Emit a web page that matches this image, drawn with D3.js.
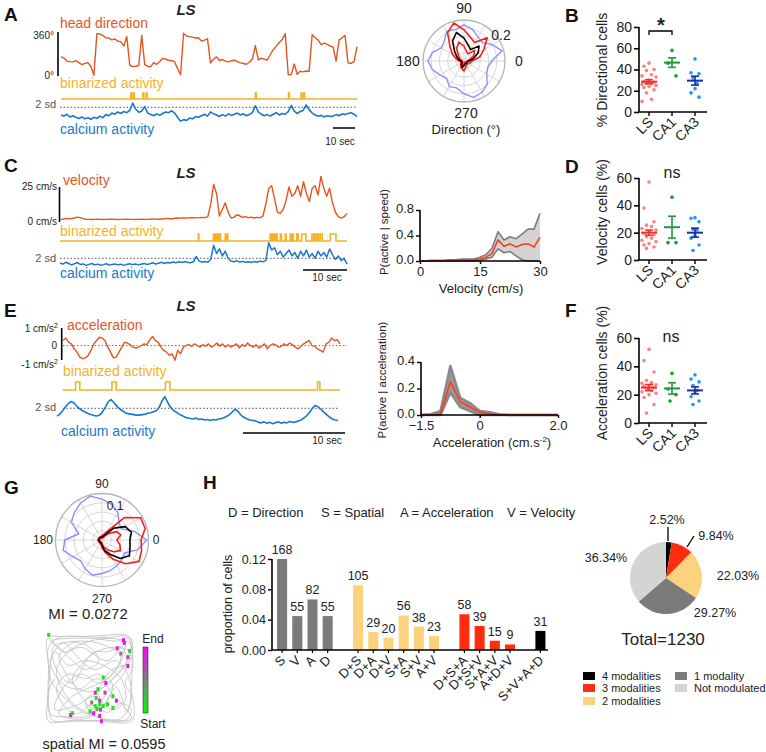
<!DOCTYPE html>
<html><head><meta charset="utf-8">
<script src="https://cdn.jsdelivr.net/npm/d3@7"></script>
<style>body{margin:0;background:#fff}svg{display:block}text{font-family:"Liberation Sans",Arial,Helvetica,sans-serif}</style>
</head><body><svg id="fig" width="766" height="752"></svg>
<script>
// ---------------- DATA ----------------
const hdDeg=[162,150,125,120,118,128,112,95,105,112,80,5,355,352,340,320,318,302,310,292,288,250,330,90,78,82,88,340,95,80,78,112,98,120,148,140,132,128,120,60,10,358,335,330,325,318,320,292,300,312,108,140,160,130,138,125,118,128,132,120,110,105,98,115,142,255,135,150,140,134,180,220,250,280,305,355,10,12,100,15,40,35,42,40,345,320,300,262,275,265,250,245,125,300,320,340,110,105,120,245];
const caA=[0,-0.3,0.2,-0.5,-0.2,-0.6,-0.9,-0.5,-1.0,-0.7,-1.1,-0.6,-0.9,-0.3,-0.7,0.1,-0.2,0.5,0.2,0.8,0.4,0.9,0.6,1.2,3.1,1.5,0.7,1.0,2.2,0.5,0.1,-0.2,0.3,-0.1,0.4,0.8,0.6,1.1,0.5,-0.6,-1.6,-1.2,-1.4,-0.8,-1.0,-0.4,-0.6,-0.2,0.2,-0.3,0.8,0.3,0.0,-0.4,0.1,-0.3,0.3,-0.1,0.2,0.5,0.0,0.3,-0.2,0.1,0.6,2.4,0.8,0.2,-0.2,0.1,-0.3,0.2,0.6,0.0,0.4,0.2,0.9,2.5,1.0,0.4,0.9,1.2,2.6,1.4,0.5,0.0,-0.3,-0.1,-0.5,-0.2,-0.4,-0.3,0.1,-0.2,0.3,0.1,0.4,0.6,0.2,-0.4];
const binA=[[23.3,23.6],[24.2,24.5],[27.4,27.7],[28.5,28.8],[65,65.3],[76.1,76.4],[80.3,80.6],[81.2,81.5]];
const vel=[0.5,0.6,1.0,1.2,1.0,1.5,2.2,1.8,1.0,0.6,0.5,0.4,0.5,0.6,0.5,0.4,0.5,0.7,0.6,0.5,0.4,0.5,0.5,0.6,0.5,0.5,0.4,0.5,0.6,0.5,0.5,0.6,0.8,0.7,0.6,0.8,1.0,1.2,0.9,1.0,1.5,1.3,1.6,1.5,1.4,1.8,1.7,1.6,1.8,2.0,1.8,2.5,12,27,20,3,8,13,6,1.5,2.0,4.0,3.2,2.0,2.5,1.8,2.2,1.5,2.0,1.8,3.0,12,24,26,16,6,5,8,15,25,18,20,26,18,29,20,14,24,26,19,33,24,18,24,13,6,2.5,1.5,2.5,5];
const binC=[[47.7,47.9],[52.9,53.3],[53.6,54.0],[54.3,54.7],[55.0,55.4],[57.0,57.3],[57.6,57.9],[72.5,72.9],[73.2,73.6],[73.9,74.3],[74.6,74.9],[76.0,76.4],[77.7,78.0],[79.4,79.8],[80.2,80.5],[81.7,82.2],[83.4,84.8],[86.9,87.5],[88.0,88.6],[88.9,89.2],[89.8,90.5],[93.2,95.2]];
const caC=[0,-0.5,0.3,-0.2,-0.8,-0.3,0.2,-0.6,-0.4,-1.0,-0.6,-0.2,-0.8,-0.5,-1.0,-0.7,-0.3,-0.9,-0.6,-0.4,-0.8,-0.5,-1.0,-0.6,-0.3,-0.7,-0.4,-0.8,-0.5,-0.2,-0.6,-0.3,0.1,-0.4,-0.1,0.3,-0.2,0.2,0.0,0.4,0.1,0.5,0.2,0.6,0.3,0.1,0.5,2.8,0.8,0.4,0.6,0.3,1.5,7.5,4.0,6.0,3.0,5.0,2.0,0.8,0.5,1.0,0.4,0.7,0.3,0.5,0.2,0.6,0.3,0.8,0.5,1.0,8.6,5.5,6.5,3.5,5.0,2.5,4.0,5.5,3.0,4.5,2.0,5.0,3.0,5.5,2.5,4.0,2.0,5.0,3.0,4.5,2.5,6.0,3.5,1.5,3.0,1.0,2.0,-0.5];
const acc=[0.3,0.45,0.2,0.1,-0.2,-0.4,-0.7,-0.8,-0.75,-0.6,-0.3,0.1,0.3,0.5,0.45,0.3,-0.1,-0.4,-0.75,-0.7,-0.4,-0.1,0.2,0.15,0.05,-0.1,-0.15,-0.1,0.0,0.1,0.05,0.35,0.55,0.3,0.2,-0.1,-0.3,-0.4,-0.6,-0.5,-0.9,-0.3,-0.5,-0.1,0.0,0.05,-0.05,0.1,0.0,-0.1,0.05,-0.05,0.1,-0.1,0.0,0.15,-0.05,0.1,-0.1,0.05,-0.1,0.0,0.1,-0.15,0.05,-0.05,0.15,0.0,-0.1,0.05,-0.15,-0.05,0.1,-0.2,0.0,0.1,0.05,-0.1,-0.05,0.1,0.0,0.15,0.05,-0.1,-0.2,-0.05,0.1,0.2,0.3,0.0,-0.05,-0.2,-0.3,-0.4,0.1,0.2,0.45,0.3,0.35,0.1];
const binE=[[4.5,6],[17.5,19],[36.6,38.2],[91,91.8]];
const caE=[0.4,0.8,1.5,2.3,3.0,3.4,3.1,2.4,1.9,1.5,1.2,0.9,0.7,0.5,0.4,0.6,1.2,2.2,3.3,3.8,3.2,2.5,1.9,1.5,1.1,0.9,0.8,0.7,0.6,0.6,0.7,0.8,1.0,1.1,1.3,1.5,2.2,3.5,4.4,3.2,2.2,1.6,1.2,0.8,0.5,0.2,0.0,-0.1,-0.2,0.0,-0.3,-0.2,-0.4,-0.3,-0.5,-0.3,-0.4,-0.2,-0.1,0.1,0.4,0.8,1.4,1.8,1.2,0.5,0.1,-0.2,-0.4,-0.5,-0.6,-0.9,-1.0,-0.8,-1.1,-0.9,-1.2,-1.0,-0.8,-1.1,-0.9,-1.0,-0.7,-0.9,-0.8,-0.6,-0.4,0.0,0.5,1.2,2.0,2.6,2.3,1.8,1.2,0.7,0.2,-0.2,-0.4,-0.5];

// polar tuning curves (angles every 15 deg, 0..345)
const polarAngles=d3.range(0,360,15);
const polA_redOuter=[0.05,0.10,0.14,0.20,0.13,0.15,0.19,0.24,0.20,0.12,0.08,0.05,0.03,0.02,0.02,0.03,0.04,0.05,0.06,0.04,0.03,0.03,0.03,0.04];
const polA_black=[0.03,0.06,0.10,0.13,0.08,0.10,0.14,0.18,0.14,0.08,0.05,0.03,0.02,0.015,0.015,0.02,0.03,0.04,0.03,0.02,0.02,0.02,0.02,0.02];
const polA_redInner=[0.02,0.04,0.07,0.09,0.05,0.06,0.09,0.12,0.09,0.05,0.03,0.02,0.01,0.01,0.01,0.015,0.02,0.03,0.02,0.01,0.01,0.01,0.01,0.015];
const polA_occ=[0.17,0.24,0.20,0.16,0.17,0.20,0.22,0.20,0.21,0.17,0.16,0.20,0.22,0.20,0.17,0.15,0.18,0.17,0.20,0.23,0.22,0.20,0.16,0.15];
const polG_redOuter=[0.105,0.12,0.12,0.085,0.025,0.015,0.012,0.01,0.01,0.01,0.01,0.01,0.012,0.01,0.01,0.01,0.01,0.012,0.02,0.035,0.06,0.09,0.115,0.11];
const polG_black=[0.075,0.082,0.072,0.045,0.015,0.01,0.008,0.008,0.008,0.008,0.008,0.008,0.008,0.008,0.008,0.008,0.008,0.008,0.015,0.03,0.045,0.07,0.085,0.078];
const polG_redInner=[0.04,0.052,0.045,0.025,0.01,0.006,0.006,0.006,0.006,0.006,0.006,0.006,0.008,0.006,0.006,0.006,0.006,0.006,0.01,0.02,0.03,0.045,0.057,0.05];
const polG_occ=[0.12,0.09,0.06,0.065,0.085,0.10,0.11,0.122,0.115,0.105,0.095,0.065,0.10,0.108,0.09,0.08,0.09,0.098,0.09,0.085,0.08,0.075,0.07,0.10];

// P(active | speed)
const speedBins=d3.range(0,30.01,1.5);
const speedMean=[0,0,0.005,0.005,0.005,0.01,0.01,0.015,0.01,0.015,0.03,0.06,0.12,0.33,0.23,0.27,0.22,0.26,0.27,0.22,0.37];
const speedUpper=[0,0.005,0.01,0.01,0.01,0.02,0.02,0.03,0.03,0.03,0.06,0.10,0.20,0.46,0.33,0.38,0.35,0.42,0.50,0.50,0.75];
const speedLower=[0,0,0,0,0,0,0,0,0,0,0.01,0.03,0.06,0.19,0.13,0.15,0.08,0.02,0,0,0];
// P(active | acceleration)
const accBins=d3.range(-1.5,2.01,0.25);
const accMean=[0,0,0.01,0.25,0.10,0.06,0.02,0.01,0,0,0,0,0,0,0];
const accUpper=[0,0.005,0.03,0.37,0.13,0.09,0.03,0.02,0.005,0,0,0,0,0,0];
const accLower=[0,0,0,0.17,0.06,0.03,0,0,0,0,0,0,0,0,0];

// scatter panels
const regions=['LS','CA1','CA3'];
const dirPts=[[46,43,40,39,35,34,33,30,29,28,27,27,26,25,24,23,21,18,12,10],[58,46,34],[50,37,36,32,27,22,18,14]];
const dirMean=[28.5,46.5,29.5], dirSem=[1.9,4.5,4.2];
const velPts=[[57,38,28,25.5,24.5,23,22,20.5,19.5,18.5,17,16,14.5,13.5,12,11,9.5,8.5],[46,12.7,12.7],[31,30.5,28,22.5,22,18,16,11,7]];
const velMean=[20,24,20], velSem=[1.9,8,3.3];
const accPts=[[52,44,36,30,28.5,28,27,26,26,25,24,23,22,21,20,18,13,7],[35,24,20,15.5],[34,31,29,26.5,23,22,18.5,15.5,13]];
const accMeanPct=[25,24.4,23], accSemPct=[2.2,4,2.5];

// trajectory (0..100 box units) and active positions [x,y,time 0..1]
const traj=[[2,2],[30,3],[60,2],[95,3],[98,30],[97,60],[98,97],[60,98],[30,97],[3,98],[2,70],[3,40],[2,5],[20,20],[40,15],[70,30],[90,10],[80,40],[60,55],[40,45],[20,60],[10,85],[35,80],[55,70],[75,85],[90,75],[85,50],[65,35],[45,30],[25,35],[10,20],[5,50],[25,75],[50,90],[70,65],[88,45],[95,20],[75,15],[50,25],[30,55],[15,45],[8,15],[40,8],[65,12],[85,25],[70,50],[50,60],[30,70],[15,90],[45,95],[65,80],[80,60],[92,88],[96,55],[80,30],[55,40],[35,25],[20,10],[5,30],[18,55],[38,62],[58,50],[78,70],[97,95],[70,96],[40,85],[22,68],[12,40],[28,18],[50,8],[75,5],[96,12],[88,38],[62,62],[45,75],[55,92],[85,95],[97,70],[90,55],[98,40],[97,15],[92,3],[70,4],[45,3],[15,4],[3,15],[4,45],[3,80],[8,97],[35,98],[65,97],[90,97],[97,85],[85,78],[70,88],[50,80],[35,90],[20,80],[12,60],[25,45],[45,50],[60,45],[75,55],[70,75],[55,85],[40,70],[30,50],[40,35],[55,20],[70,20],[85,15],[92,30],[80,45],[65,60],[50,65],[35,60],[20,40],[15,25],[30,10],[50,15],[60,30],[45,40],[30,30],[15,15],[5,8],[25,5],[55,5],[80,8],[95,5],[98,25],[90,35],[75,40],[60,65],[62,80],[48,92],[25,93],[5,90],[3,65],[10,50]];
const spikesXY=[[88,7,0.95],[89,10,0.9],[81,16,0.85],[85,22,0.5],[95,19,0.2],[93,26,0.7],[93,36,0.92],[3,1,0.1],[65,49,0.15],[68,55,0.9],[56,66,0.95],[59,62,0.1],[67,66,0.75],[76,70,0.15],[61,75,0.9],[52,77,0.5],[56,81,0.1],[61,79,0.05],[65,81,0.1],[70,79,0.2],[50,87,0.1],[54,89,0.95],[61,92,0.9],[63,98,0.85],[28,91,0.95],[30,89,0.1],[80,75,0.9],[76,83,0.1],[57,72,0.1],[62,85,0.7],[58,84,0.2]];

// H: modality combinations
const hCats=['S','V','A','D','D+S','D+A','D+V','S+A','S+V','A+V','D+S+A','D+S+V','S+A+V','A+D+V','S+V+A+D'];
const hCounts=[168,55,82,55,105,29,20,56,38,23,58,39,15,9,31];
const hGroup=[1,1,1,1,2,2,2,2,2,2,3,3,3,3,4];
const totalCells=1230;
const hTicks=[0,0.04,0.08,0.12];
const pieLabels=['4 modalities','3 modalities','2 modalities','1 modality','Not modulated'];
const piePct=[2.52,9.84,22.03,29.27,36.34];

// ---------------- DRAW ----------------
const svg=d3.select('#fig');
svg.append('rect').attr('width',766).attr('height',752).attr('fill','#fff');
const ORANGE='#e4561f',YELLOW='#f4b224',BLUE='#1b78c8',TXT='#222';
function txt(x,y,s,o={}){const t=svg.append('text').attr('x',x).attr('y',y).text(s)
 .attr('font-size',o.size||12).attr('fill',o.fill||TXT).attr('text-anchor',o.anchor||'start');
 if(o.weight)t.attr('font-weight',o.weight); if(o.style)t.attr('font-style',o.style);
 if(o.rotate!=null)t.attr('transform',`rotate(${o.rotate},${x},${y})`); return t;}
function hline(x0,x1,y,o={}){svg.append('line').attr('x1',x0).attr('x2',x1).attr('y1',y).attr('y2',y)
 .attr('stroke',o.stroke||'#000').attr('stroke-width',o.w||1.5).attr('stroke-dasharray',o.dash||null);}
function vline(x,y0,y1,o={}){svg.append('line').attr('x1',x).attr('x2',x).attr('y1',y0).attr('y2',y1)
 .attr('stroke',o.stroke||'#000').attr('stroke-width',o.w||1.5);}
function trace(vals,x0,x1,y,color,w){const x=d3.scaleLinear().domain([0,vals.length-1]).range([x0,x1]);
 svg.append('path').datum(vals).attr('d',d3.line().x((d,i)=>x(i)).y(d=>y(d))).attr('fill','none')
 .attr('stroke',color).attr('stroke-width',w).attr('stroke-linejoin','round');}
function binTrace(iv,n,x0,x1,yb,yt){const x=d3.scaleLinear().domain([0,n-1]).range([x0,x1]);
 const y=d3.scaleLinear().domain([0,1]).range([yb,yt]);const pts=[[0,0]];
 iv.forEach(([s,e])=>pts.push([s,0],[s,1],[e,1],[e,0]));pts.push([n-1,0]);
 svg.append('path').datum(pts).attr('d',d3.line().x(d=>x(d[0])).y(d=>y(d[1]))).attr('fill','none')
 .attr('stroke',YELLOW).attr('stroke-width',1.6);}
const dots={stroke:'#777',w:1.2,dash:'1.5,2'};

// Panel letters
[['A',4,21],['B',565,22],['C',4,172],['D',565,173],['E',4,317],['F',565,317],['G',4,494],['H',203,489]]
 .forEach(([l,x,y])=>txt(x,y,l,{size:19,weight:'bold',fill:'#111'}));

// ===== Panel A traces =====
txt(186,15,'LS',{size:15,weight:'bold',style:'italic',anchor:'middle'});
txt(60,28,'head direction',{size:14,fill:ORANGE});
vline(58,32,76,{w:1.6});
txt(54,39,'360°',{size:10,anchor:'end'}); txt(54,79,'0°',{size:10,anchor:'end'});
const yHD=d3.scaleLinear().domain([0,360]).range([76,33]);
trace(hdDeg,61,357,yHD,ORANGE,1.4);
txt(60,88,'binarized activity',{size:14,fill:YELLOW});
binTrace(binA,100,61,357,99,93);
const yCaA=d3.scaleLinear().domain([0,2]).range([115,107.3]);
hline(60,357,yCaA(2),dots); txt(56,108,'2 sd',{size:11,anchor:'end',fill:'#555'});
trace(caA,61,357,yCaA,BLUE,1.6);
txt(60,134,'calcium activity',{size:14,fill:BLUE});
hline(333,355,128,{w:1.5}); txt(340,145,'10 sec',{size:10,anchor:'middle'});

// ===== Panel C traces =====
txt(186,178,'LS',{size:15,weight:'bold',style:'italic',anchor:'middle'});
txt(63,185,'velocity',{size:14,fill:ORANGE});
vline(59.5,187,222,{w:1.6});
txt(57,190,'25 cm/s',{size:10,anchor:'end'}); txt(57,225,'0 cm/s',{size:10,anchor:'end'});
const yVel=d3.scaleLinear().domain([0,25]).range([220,187]);
trace(vel,60,347,yVel,ORANGE,1.4);
txt(60,236,'binarized activity',{size:14,fill:YELLOW});
binTrace(binC,100,60,347,241,234);
const yCaC=d3.scaleLinear().domain([0,2]).range([263,258.3]);
hline(60,347,yCaC(2),dots); txt(56,262,'2 sd',{size:11,anchor:'end',fill:'#555'});
trace(caC,60,347,yCaC,BLUE,1.5);
txt(60,278,'calcium activity',{size:14,fill:BLUE});
hline(303,347,270,{w:1.5}); txt(327,281,'10 sec',{size:10,anchor:'middle'});

// ===== Panel E traces =====
txt(186,311,'LS',{size:15,weight:'bold',style:'italic',anchor:'middle'});
txt(67,330,'acceleration',{size:14,fill:ORANGE});
vline(61.7,328,360,{w:1.6});
{const t=txt(58,332,'1 cm/s',{size:10,anchor:'end'});t.append('tspan').attr('dy',-4).attr('font-size',7).text('2');}
txt(57,349,'0',{size:10,anchor:'end'});
{const t=txt(58,368,'-1 cm/s',{size:10,anchor:'end'});t.append('tspan').attr('dy',-4).attr('font-size',7).text('2');}
const yAcc=d3.scaleLinear().domain([-1,1]).range([362,329]);
hline(63,347,yAcc(0),dots);
trace(acc,63,340,yAcc,ORANGE,1.4);
txt(63,376,'binarized activity',{size:14,fill:YELLOW});
binTrace(binE,100,63,340,390,382);
const yCaE=d3.scaleLinear().domain([0,2]).range([418,408.3]);
hline(63,338,yCaE(2),dots); txt(56,411,'2 sd',{size:11,anchor:'end',fill:'#555'});
trace(caE,57,338,yCaE,BLUE,1.6);
txt(61,436,'calcium activity',{size:14,fill:BLUE});
hline(243,345,433,{w:1.5}); txt(327,444,'10 sec',{size:10,anchor:'middle'});

// ===== Polar plots =====
function polar(cx,cy,R,max,series){
 const g=svg.append('g').attr('transform',`translate(${cx},${cy})`);
 const r=d3.scaleLinear().domain([0,max]).range([0,R]);
 d3.range(1,5).forEach(k=>g.append('circle').attr('r',r(max*k/5)).attr('fill','none').attr('stroke','#d6d6d6').attr('stroke-width',1));
 d3.range(0,360,30).forEach(a=>{const t=a*Math.PI/180;g.append('line').attr('x1',0).attr('y1',0)
  .attr('x2',R*Math.cos(t)).attr('y2',-R*Math.sin(t)).attr('stroke','#d6d6d6').attr('stroke-width',1);});
 g.append('circle').attr('r',R).attr('fill','none').attr('stroke','#b5b5b5').attr('stroke-width',1.3);
 const line=d3.lineRadial().angle(d=>Math.PI/2-d[0]*Math.PI/180).radius(d=>r(d[1])).curve(d3.curveLinearClosed);
 series.forEach(s=>g.append('path').datum(polarAngles.map((a,i)=>[a,s.v[i]])).attr('d',line)
  .attr('fill','none').attr('stroke',s.c).attr('stroke-width',s.w).attr('stroke-linejoin','round'));
}
polar(464,61,41,0.25,[{v:polA_occ,c:'#8d8dff',w:1.4},{v:polA_redOuter,c:'#ff1a1a',w:1.6},{v:polA_redInner,c:'#ff1a1a',w:1.6},{v:polA_black,c:'#000',w:1.6}]);
txt(464,13,'90',{size:14,anchor:'middle'}); txt(408,66,'180',{size:14,anchor:'middle'});
txt(519,66,'0',{size:14,anchor:'middle'}); txt(466,118,'270',{size:14,anchor:'middle'});
txt(501,40,'0.2',{size:14,anchor:'middle'});
txt(466,134,'Direction (°)',{size:13,anchor:'middle'});

polar(102,540,46.5,0.125,[{v:polG_occ,c:'#8d8dff',w:1.4},{v:polG_redOuter,c:'#ff1a1a',w:1.6},{v:polG_redInner,c:'#ff1a1a',w:1.6},{v:polG_black,c:'#000',w:1.6}]);
txt(102,488,'90',{size:12,anchor:'middle'}); txt(115,510,'0.1',{size:12,anchor:'middle'});
txt(43,544,'180',{size:12,anchor:'middle'}); txt(156,544,'0',{size:12,anchor:'middle'});
txt(102,603,'270',{size:12,anchor:'middle'});
txt(88,619,'MI = 0.0272',{size:15,anchor:'middle'});

// ===== Scatter panels B, D, F =====
const colPt=['#ff8080','#12a02b','#2b93f5'], colMean=['#f23030','#1f9a3a','#1c2ea0'];
function scatter(cfg){
 const y=d3.scaleLinear().domain([0,cfg.max]).range([cfg.yBot,cfg.yTop]);
 const x=d3.scalePoint().domain(regions).range([649,695]);
 const ax=svg.append('g').attr('transform','translate(639,0)').call(d3.axisLeft(y).tickValues(cfg.ticks).tickSize(5).tickPadding(2).tickFormat(d3.format('d')));
 ax.select('.domain').attr('stroke-width',1.6).attr('d',`M0,${cfg.yTop}V${cfg.yBot}`);
 ax.selectAll('.tick line').attr('stroke-width',1.6);
 ax.selectAll('text').attr('font-size',14).attr('fill',TXT).attr('font-family','"Liberation Sans",Arial,sans-serif');
 hline(639,707,cfg.yBot,{w:1.6});
 regions.forEach((r,k)=>{vline(x(r),cfg.yBot,cfg.yBot+4,{w:1.4});
  txt(x(r)+5,cfg.yBot+11,r,{size:14,anchor:'end',rotate:-45});
  const pts=cfg.pts[k].slice().sort((a,b)=>b-a);const offs=k===0?[0,-5,5,-2.5,2.5,-7,7]:[0,-4,4,-2,2];
  svg.append('g').selectAll('circle').data(pts).join('circle').attr('cx',(d,i)=>x(r)+offs[i%offs.length])
   .attr('cy',d=>y(d)).attr('r',1.8).attr('fill',colPt[k]);
  const m=cfg.mean[k],s=cfg.sem[k];
  vline(x(r),y(m-s),y(m+s),{stroke:colMean[k],w:1.6});
  hline(x(r)-4,x(r)+4,y(m+s),{stroke:colMean[k],w:1.6});hline(x(r)-4,x(r)+4,y(m-s),{stroke:colMean[k],w:1.6});
  hline(x(r)-8,x(r)+8,y(m),{stroke:colMean[k],w:2});
 });
 txt(607,cfg.labelY,cfg.label,{size:14,anchor:'middle',rotate:-90});
 return {x,y};
}
const sB=scatter({max:80,yTop:27,yBot:112,ticks:[0,20,40,60,80],pts:dirPts,mean:dirMean,sem:dirSem,label:'% Directional cells',labelY:70});
svg.append('path').attr('d',`M${sB.x('LS')},35V31H${sB.x('CA1')}V35`).attr('fill','none').attr('stroke','#000').attr('stroke-width',1.3);
txt(661,32,'*',{size:20,anchor:'middle',weight:'bold'});
scatter({max:60,yTop:178,yBot:260,ticks:[0,20,40,60],pts:velPts,mean:velMean,sem:velSem,label:'Velocity cells (%)',labelY:212});
txt(672,178,'ns',{size:16,anchor:'middle'});
scatter({max:60,yTop:338,yBot:423,ticks:[0,20,40,60],pts:accPts,mean:accMeanPct,sem:accSemPct,label:'Acceleration cells (%)',labelY:373});
txt(671,342,'ns',{size:16,anchor:'middle'});

// ===== Probability plots =====
function probPlot(cfg){
 const x=d3.scaleLinear().domain(cfg.xd).range(cfg.xr), y=d3.scaleLinear().domain(cfg.yd).range(cfg.yr);
 const g=svg.append('g');
 const up=cfg.bins.map((b,i)=>[b,cfg.upper[i],cfg.lower[i]]);
 g.append('path').datum(up).attr('d',d3.area().x(d=>x(d[0])).y0(d=>y(d[2])).y1(d=>y(d[1]))).attr('fill',cfg.band);
 [cfg.upper,cfg.lower].forEach(arr=>g.append('path').datum(arr).attr('d',d3.line().x((d,i)=>x(cfg.bins[i])).y(d=>y(d)))
  .attr('fill','none').attr('stroke',cfg.edge).attr('stroke-width',cfg.edgeW).attr('stroke-linejoin','round'));
 g.append('path').datum(cfg.mean).attr('d',d3.line().x((d,i)=>x(cfg.bins[i])).y(d=>y(d))).attr('fill','none')
  .attr('stroke','#ff3a1a').attr('stroke-width',1.6);
 const ay=svg.append('g').attr('transform',`translate(${cfg.xr[0]},0)`).call(d3.axisLeft(y).tickValues(cfg.yt).tickSize(4).tickPadding(2).tickFormat(d3.format('.1f')));
 const axx=svg.append('g').attr('transform',`translate(0,${cfg.yr[0]})`).call(d3.axisBottom(x).tickValues(cfg.xt).tickSize(3).tickPadding(3).tickFormat(cfg.xf));
 [ay,axx].forEach(a=>{a.select('.domain').attr('stroke-width',1.6);a.selectAll('.tick line').attr('stroke-width',1.4);
  a.selectAll('text').attr('font-size',13).attr('fill',TXT).attr('font-family','"Liberation Sans",Arial,sans-serif');});
 ay.selectAll('text').attr('dy','0.2em');
 ay.select('.domain').attr('d',`M0,${cfg.yr[1]}V${cfg.yr[0]}`);
 axx.select('.domain').attr('d',`M${cfg.xr[0]},0H${cfg.xr[1]}`);
 return {x,y};
}
probPlot({xd:[0,30],xr:[420,540],yd:[0,0.8],yr:[261,210],bins:speedBins,mean:speedMean,upper:speedUpper,lower:speedLower,
 band:'#d3d3d3',edge:'#7d7d7d',edgeW:1.6,yt:[0,0.4,0.8],xt:[0,15,30],xf:d3.format('d')});
txt(388,232,'P(active | speed)',{size:11.5,anchor:'middle',rotate:-90});
txt(481,293,'Velocity (cm/s)',{size:13,anchor:'middle'});
probPlot({xd:[-1.5,2.0],xr:[421,558],yd:[0,0.4],yr:[415,362],bins:accBins,mean:accMean,upper:accUpper,lower:accLower,
 band:'#9a9a9a',edge:'#8a8a8a',edgeW:2.6,yt:[0,0.2,0.4],xt:[-1.5,0,2.0],xf:d=>d===0?'0':d3.format('.1f')(d)});
txt(386,380,'P(active | acceleration)',{size:11.5,anchor:'middle',rotate:-90});
{const t=txt(492,447,'Acceleration (cm.s',{size:13,anchor:'middle'});t.append('tspan').attr('dy',-5).attr('font-size',8).text('-2');t.append('tspan').attr('dy',5).text(')');}

// ===== Trajectory map =====
const mx=d3.scaleLinear().domain([0,100]).range([46,134]), my=d3.scaleLinear().domain([0,100]).range([634,723]);
svg.append('path').datum(traj).attr('d',d3.line().x(d=>mx(d[0])).y(d=>my(d[1])).curve(d3.curveCatmullRom)).attr('fill','none')
 .attr('stroke','#c4c4c4').attr('stroke-width',0.9);
const tcol=d3.scaleLinear().domain([0,0.5,1]).range(['#00ff00','#808080','#ff00ff']);
svg.append('g').selectAll('rect').data(spikesXY).join('rect').attr('x',d=>mx(d[0])-1.5).attr('y',d=>my(d[1])-2)
 .attr('width',3).attr('height',4).attr('fill',d=>tcol(d[2]));
const grad=svg.append('defs').append('linearGradient').attr('id','tg').attr('x1',0).attr('x2',0).attr('y1',0).attr('y2',1);
[[0,'#ff00ff'],[0.5,'#808080'],[1,'#00ff00']].forEach(([o,c])=>grad.append('stop').attr('offset',o).attr('stop-color',c));
svg.append('rect').attr('x',143).attr('y',647).attr('width',5).attr('height',66).attr('fill','url(#tg)').attr('stroke','#333').attr('stroke-width',0.6);
txt(153,643,'End',{size:12,anchor:'middle'}); txt(153,728,'Start',{size:12,anchor:'middle'});
txt(104,749,'spatial MI = 0.0595',{size:14.5,anchor:'middle'});

// ===== Panel H bars =====
txt(228,517,'D = Direction',{size:13}); txt(321,517,'S = Spatial',{size:13});
txt(400,517,'A = Acceleration',{size:13}); txt(507,517,'V = Velocity',{size:13});
const slots=hCats.map((c,i)=>i+hGroup[i]-1);
const xb=d3.scaleBand().domain(d3.range(18)).range([274.5,548]).paddingInner(0.34).paddingOuter(0.17);
const yb=d3.scaleLinear().domain([0,0.12]).range([650,559]).clamp(true);
const gCol={1:'#7b7b7b',2:'#fdd27e',3:'#ff2c10',4:'#000'};
hCats.forEach((c,i)=>{const x0=xb(slots[i]),v=hCounts[i]/totalCells;
 svg.append('rect').attr('x',x0).attr('y',yb(v)).attr('width',xb.bandwidth()).attr('height',650-yb(v)).attr('fill',gCol[hGroup[i]]);
 txt(x0+xb.bandwidth()/2,yb(v)-5,String(hCounts[i]),{size:12.5,anchor:'middle'});
 vline(x0+xb.bandwidth()/2,650,653,{w:1.2});
 txt(x0+xb.bandwidth()/2+4,661,c,{size:13,anchor:'end',rotate:-45});
});
const ayb=svg.append('g').attr('transform','translate(272,0)').call(d3.axisLeft(yb).tickValues(hTicks).tickSize(4).tickPadding(2).tickFormat(d3.format('.2f')));
ayb.select('.domain').attr('stroke-width',1.6).attr('d','M0,559V650');ayb.selectAll('.tick line').attr('stroke-width',1.4);
ayb.selectAll('text').attr('font-size',12.5).attr('fill',TXT).attr('font-family','"Liberation Sans",Arial,sans-serif');
hline(272,548,650,{w:1.6});
txt(232,604,'proportion of cells',{size:12.5,anchor:'middle',rotate:-90});

// ===== Pie =====
const pieCol=['#000','#ff2c10','#fdd27e','#7b7b7b','#d4d4d4'];
const arcs=d3.pie().sort(null)(piePct);
const arc=d3.arc().innerRadius(0).outerRadius(36);
svg.append('g').attr('transform','translate(666,578)').selectAll('path').data(arcs).join('path').attr('d',arc).attr('fill',(d,i)=>pieCol[i]);
const pieLabelPos=[[667,524],[716,540],[738,580],[715,617],[606,562]];
piePct.forEach((p,i)=>txt(pieLabelPos[i][0],pieLabelPos[i][1],p.toFixed(2)+'%',{size:12.5,anchor:'middle'}));
svg.append('line').attr('x1',668).attr('x2',668).attr('y1',527).attr('y2',541).attr('stroke','#000').attr('stroke-width',1.3);
svg.append('line').attr('x1',687).attr('x2',694).attr('y1',547).attr('y2',536).attr('stroke','#000').attr('stroke-width',1.3);
txt(663,645,'Total='+totalCells,{size:17,anchor:'middle'});
const legPos=[[583,676],[583,688],[583,701],[675,676],[675,688]];
pieLabels.forEach((l,i)=>{svg.append('rect').attr('x',legPos[i][0]).attr('y',legPos[i][1]-4).attr('width',12).attr('height',8).attr('fill',pieCol[i]);
 txt(legPos[i][0]+19,legPos[i][1]+4,l,{size:11});});
</script></body></html>
